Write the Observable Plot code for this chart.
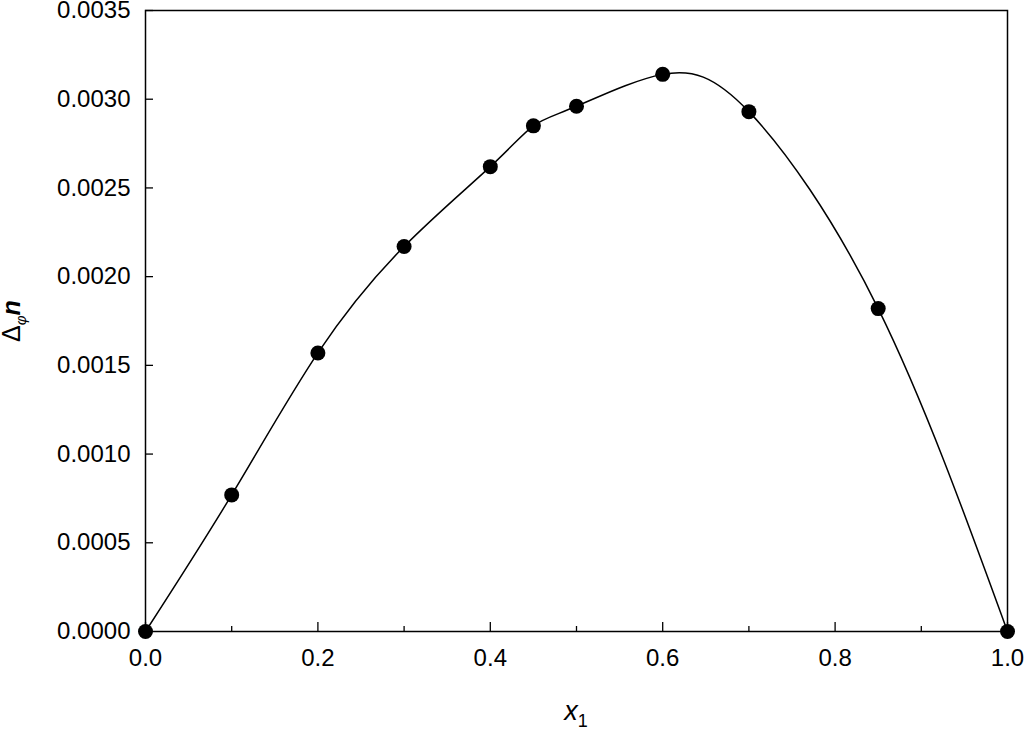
<!DOCTYPE html>
<html>
<head>
<meta charset="utf-8">
<script src="https://cdn.jsdelivr.net/npm/d3@7"></script>
<script src="https://cdn.jsdelivr.net/npm/@observablehq/plot@0.6"></script>
<style>
  html, body { margin: 0; padding: 0; background: #fff; }
  svg text { font-family: "Liberation Sans", Arial, sans-serif; }
</style>
</head>
<body>
<div id="chart"></div>
<script>
// Data
const x1 = [0, 0.1, 0.2, 0.3, 0.4, 0.45, 0.5, 0.6, 0.7, 0.85, 1.0];
const dn = [0, 0.00077, 0.00157, 0.00217, 0.00262, 0.00285, 0.00296, 0.00314, 0.00293, 0.00182, 0];
const xMajorTicks = [0, 0.2, 0.4, 0.6, 0.8, 1.0];
const xMinorTicks = [0.1, 0.3, 0.5, 0.7, 0.9];
const yTicks = [0, 0.0005, 0.0010, 0.0015, 0.0020, 0.0025, 0.0030, 0.0035];

const data = x1.map((x, i) => ({x, y: dn[i]}));

const W = 1024, H = 729;
const mL = 145, mR = 17, mT = 10, mB = 98;
const pw = W - mL - mR, ph = H - mT - mB;

const svg = Plot.plot({
  width: W,
  height: H,
  marginLeft: mL,
  marginRight: mR,
  marginTop: mT,
  marginBottom: mB,
  style: {fontFamily: "'Liberation Sans', Arial, sans-serif", fontSize: "24px", background: "#fff", color: "#000"},
  x: {domain: [0, 1]},
  y: {domain: [0, 0.0035]},
  marks: [
    Plot.axisX({ticks: xMajorTicks, tickFormat: d3.format(".1f"), tickSize: 0, tickPadding: 17, label: null, fontSize: 24}),
    Plot.axisY({ticks: yTicks, tickFormat: d3.format(".4f"), tickSize: 0, tickPadding: 15, label: null, fontSize: 24}),
    Plot.tickX(xMajorTicks, {x: d => d, insetTop: ph - 9, stroke: "#000", strokeWidth: 1.3}),
    Plot.tickX(xMinorTicks, {x: d => d, insetTop: ph - 5, stroke: "#000", strokeWidth: 1.3}),
    Plot.tickY(yTicks, {y: d => d, insetRight: pw - 8, stroke: "#000", strokeWidth: 1.3}),
    Plot.frame({stroke: "#000", strokeWidth: 1.5}),
    Plot.line(data, {x: "x", y: "y", curve: "natural", stroke: "#000", strokeWidth: 1.5}),
    Plot.dot(data, {x: "x", y: "y", r: 7.5, fill: "#000", stroke: "none", clip: false})
  ]
});

const s = d3.select(svg);
// x-axis label
const xl = s.append("text")
  .attr("x", 576).attr("y", 720)
  .attr("text-anchor", "middle")
  .attr("font-size", 27)
  .attr("fill", "#000");
xl.append("tspan").attr("font-style", "italic").text("x");
xl.append("tspan").attr("font-size", 18).attr("dy", 7).text("1");

// y-axis label
const yl = s.append("text")
  .attr("transform", "translate(20,321) rotate(-90)")
  .attr("text-anchor", "middle")
  .attr("font-size", 25)
  .attr("fill", "#000");
yl.append("tspan").text("Δ");
yl.append("tspan").attr("font-size", 15).attr("font-style", "italic").attr("dy", 6).text("φ");
yl.append("tspan").attr("font-weight", "bold").attr("font-style", "italic").attr("dy", -6).text("n");

document.getElementById("chart").appendChild(svg);
</script>
</body>
</html>
